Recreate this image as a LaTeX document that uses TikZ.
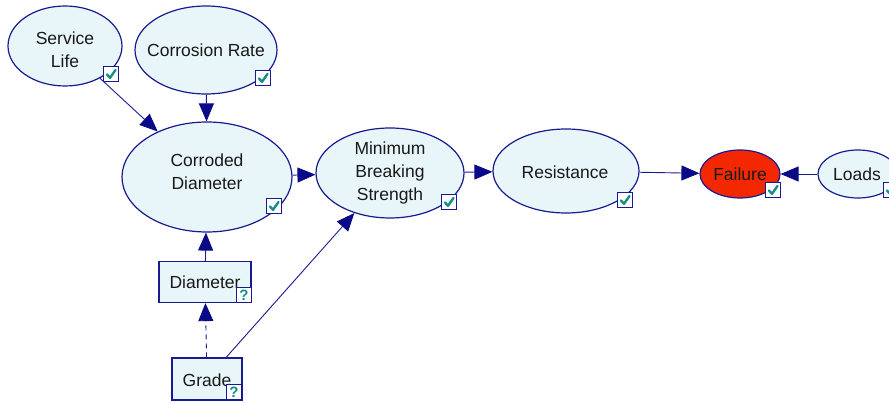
\documentclass[tikz,border=0pt]{standalone}
\usepackage{fontspec}
\setmainfont{Liberation Sans}
\usetikzlibrary{shapes.geometric,arrows.meta,calc}
\definecolor{nodefill}{HTML}{E8F6F9}
\definecolor{edge}{HTML}{1A1A90}
\definecolor{tip}{HTML}{0A0A88}
\definecolor{okteal}{HTML}{129088}
\definecolor{failred}{HTML}{F42800}
\tikzset{
  chance/.style={ellipse,draw=edge,fill=nodefill,line width=1.2pt,inner sep=0pt},
  decision/.style={rectangle,draw=edge,fill=nodefill,line width=1.2pt,inner sep=0pt},
  caption/.style={align=center,inner sep=0pt,font=\fontsize{17.5}{23}\selectfont,text=black!90},
  link/.style={draw=edge,line width=0.9pt,-{Triangle[length=18pt,width=15pt,color=tip]}},
  tickbox/.style={rectangle,draw=edge,fill=white,line width=1.1pt,minimum size=15pt,inner sep=0pt},
}
% small status boxes: a check mark or a question mark
\newcommand{\okbox}[2]{%
  \node[tickbox] (#1) at (#2) {};
  \draw[okteal,line width=2.4pt,line cap=round,line join=round]
    ($(#1.center)+(-4,0.5)$) -- ($(#1.center)+(-1,3.8)$) -- ($(#1.center)+(4.5,-4)$);}
\newcommand{\askbox}[2]{%
  \node[tickbox] (#1) at (#2) {\bfseries\color{okteal}\fontsize{15}{15}\selectfont ?};}
\begin{document}
\begin{tikzpicture}[x=1pt,y=-1pt]
\useasboundingbox (0,0) rectangle (889,403);
\clip (0,0) rectangle (889,403);

% node shapes
\node[chance,minimum width=114pt,minimum height=80pt] (life) at (65,46) {};
\node[chance,minimum width=142pt,minimum height=88pt] (rate) at (206,50) {};
\node[chance,minimum width=170pt,minimum height=110pt] (cdiam) at (207,177) {};
\node[chance,minimum width=148pt,minimum height=90pt] (mbs) at (390,173) {};
\node[chance,minimum width=146pt,minimum height=84pt] (res) at (566,171) {};
\node[chance,fill=failred,minimum width=80pt,minimum height=48pt] (fail) at (740,174) {};
\node[chance,minimum width=80pt,minimum height=48pt] (loads) at (858,174) {};
\node[decision,minimum width=92pt,minimum height=41pt] (diam) at (205,282) {};
\node[decision,minimum width=70pt,minimum height=42pt] (grade) at (207,379) {};

% node labels
\node[caption] (life-t) at (65,50) {Service\\Life};
\node[caption] (rate-t) at (206,50) {Corrosion Rate};
\node[caption] (cdiam-t) at (207,172) {Corroded\\Diameter};
\node[caption] (mbs-t) at (390,173) {Minimum\\Breaking\\Strength};
\node[caption] (res-t) at (565,172) {Resistance};
\node[caption] (fail-t) at (740,174) {Failure};
\node[caption] (loads-t) at (857,174) {Loads};
\node[caption] (diam-t) at (205,282) {Diameter};
\node[caption] (grade-t) at (207,380) {Grade};

% connectors
\draw[link] (life) -- (cdiam);
\draw[link] (rate) -- (cdiam);
\draw[link] (cdiam) -- (mbs);
\draw[link] (mbs) -- (res);
\draw[link] (res) -- (fail);
\draw[link] (loads) -- (fail);
\draw[link] (diam) -- (cdiam);
\draw[link,dashed,dash pattern=on 5pt off 4pt] (grade) -- (diam);
\draw[link] (grade) -- (mbs);

% status boxes
\okbox{lifeok}{111,74}
\okbox{rateok}{263,78}
\okbox{cdiamok}{274,206}
\okbox{mbsok}{449,202}
\okbox{resok}{625,200}
\okbox{failok}{773,190}
\okbox{loadsok}{891,190}
\askbox{diamq}{244,295}
\askbox{gradeq}{234,392}
\end{tikzpicture}
\end{document}
